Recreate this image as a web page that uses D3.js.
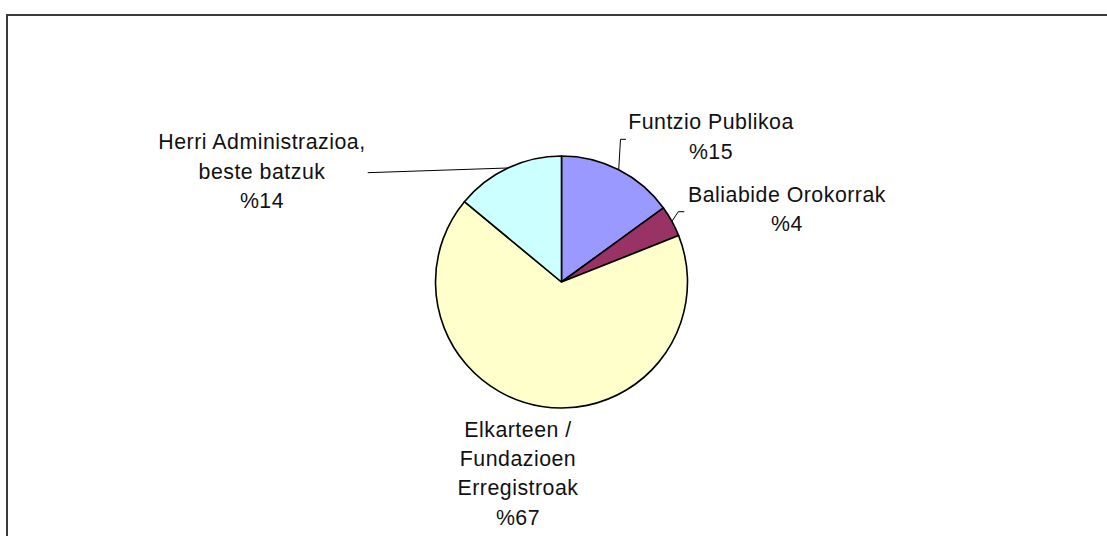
<!DOCTYPE html>
<html>
<head>
<meta charset="utf-8">
<script src="https://cdn.jsdelivr.net/npm/d3@7/dist/d3.min.js"></script>
<style>
  html, body { margin: 0; padding: 0; background: #fff; }
  svg { display: block; }
  text { font-family: "Liberation Sans", Arial, sans-serif; font-size: 21.33px; letter-spacing: 0.5px; fill: #111; }
</style>
</head>
<body>
<svg id="chart" width="1107" height="536"></svg>
<script>
// ---- data ----
const categories = ["Funtzio Publikoa", "Baliabide Orokorrak", "Elkarteen / Fundazioen Erregistroak", "Herri Administrazioa, beste batzuk"];
const labelLines = [
  ["Funtzio Publikoa"],
  ["Baliabide Orokorrak"],
  ["Elkarteen /", "Fundazioen", "Erregistroak"],
  ["Herri Administrazioa,", "beste batzuk"]
];
const values = [15, 4, 67, 14];
const colors = ["#9999FF", "#993366", "#FFFFCC", "#CCFFFF"];

// ---- layout (positions only) ----
const W = 1107, H = 536;
const cx = 561.5, cy = 282, R = 126;
const lineH = 29.3;
// label anchor: centre x, first baseline y, and leader elbow/end points
const labelLayout = [
  { x: 711, y: 129.3, leader: [[620.5, 139.3], [626, 139.3]] },
  { x: 787, y: 201.7, leader: [[678.3, 211.7], [684.3, 211.7]] },
  { x: 518, y: 436.7, leader: null },
  { x: 262, y: 149.3, leader: [[367.7, 172.7]] }
];

const svg = d3.select("#chart");

// frame
svg.append("rect")
  .attr("x", 7).attr("y", 15)
  .attr("width", W + 50).attr("height", H + 50)
  .attr("fill", "none")
  .attr("stroke", "#3a3a3a")
  .attr("stroke-width", 2);

const pie = d3.pie().sort(null).value(d => d)
  .startAngle(0).endAngle(2 * Math.PI);
const arcs = pie(values);
const arcGen = d3.arc().innerRadius(0).outerRadius(R);

const g = svg.append("g").attr("transform", `translate(${cx},${cy})`);

g.selectAll("path.slice")
  .data(arcs)
  .enter().append("path")
  .attr("class", "slice")
  .attr("d", arcGen)
  .attr("fill", (d, i) => colors[i])
  .attr("stroke", "#000")
  .attr("stroke-width", 1.6)
  .attr("stroke-linejoin", "round");

// leader lines
arcs.forEach((a, i) => {
  const L = labelLayout[i];
  if (!L.leader) return;
  const mid = (a.startAngle + a.endAngle) / 2;
  const p0 = [cx + R * Math.sin(mid), cy - R * Math.cos(mid)];
  const pts = [p0].concat(L.leader);
  svg.append("path")
    .attr("d", d3.line()(pts))
    .attr("fill", "none")
    .attr("stroke", "#000")
    .attr("stroke-width", 1);
});

// labels
arcs.forEach((a, i) => {
  const L = labelLayout[i];
  const lines = labelLines[i].concat(["%" + values[i]]);
  const t = svg.append("text")
    .attr("text-anchor", "middle")
    .attr("x", L.x).attr("y", L.y);
  lines.forEach((s, k) => {
    t.append("tspan")
      .attr("x", L.x)
      .attr("dy", k === 0 ? 0 : lineH)
      .text(s);
  });
});
</script>
</body>
</html>
